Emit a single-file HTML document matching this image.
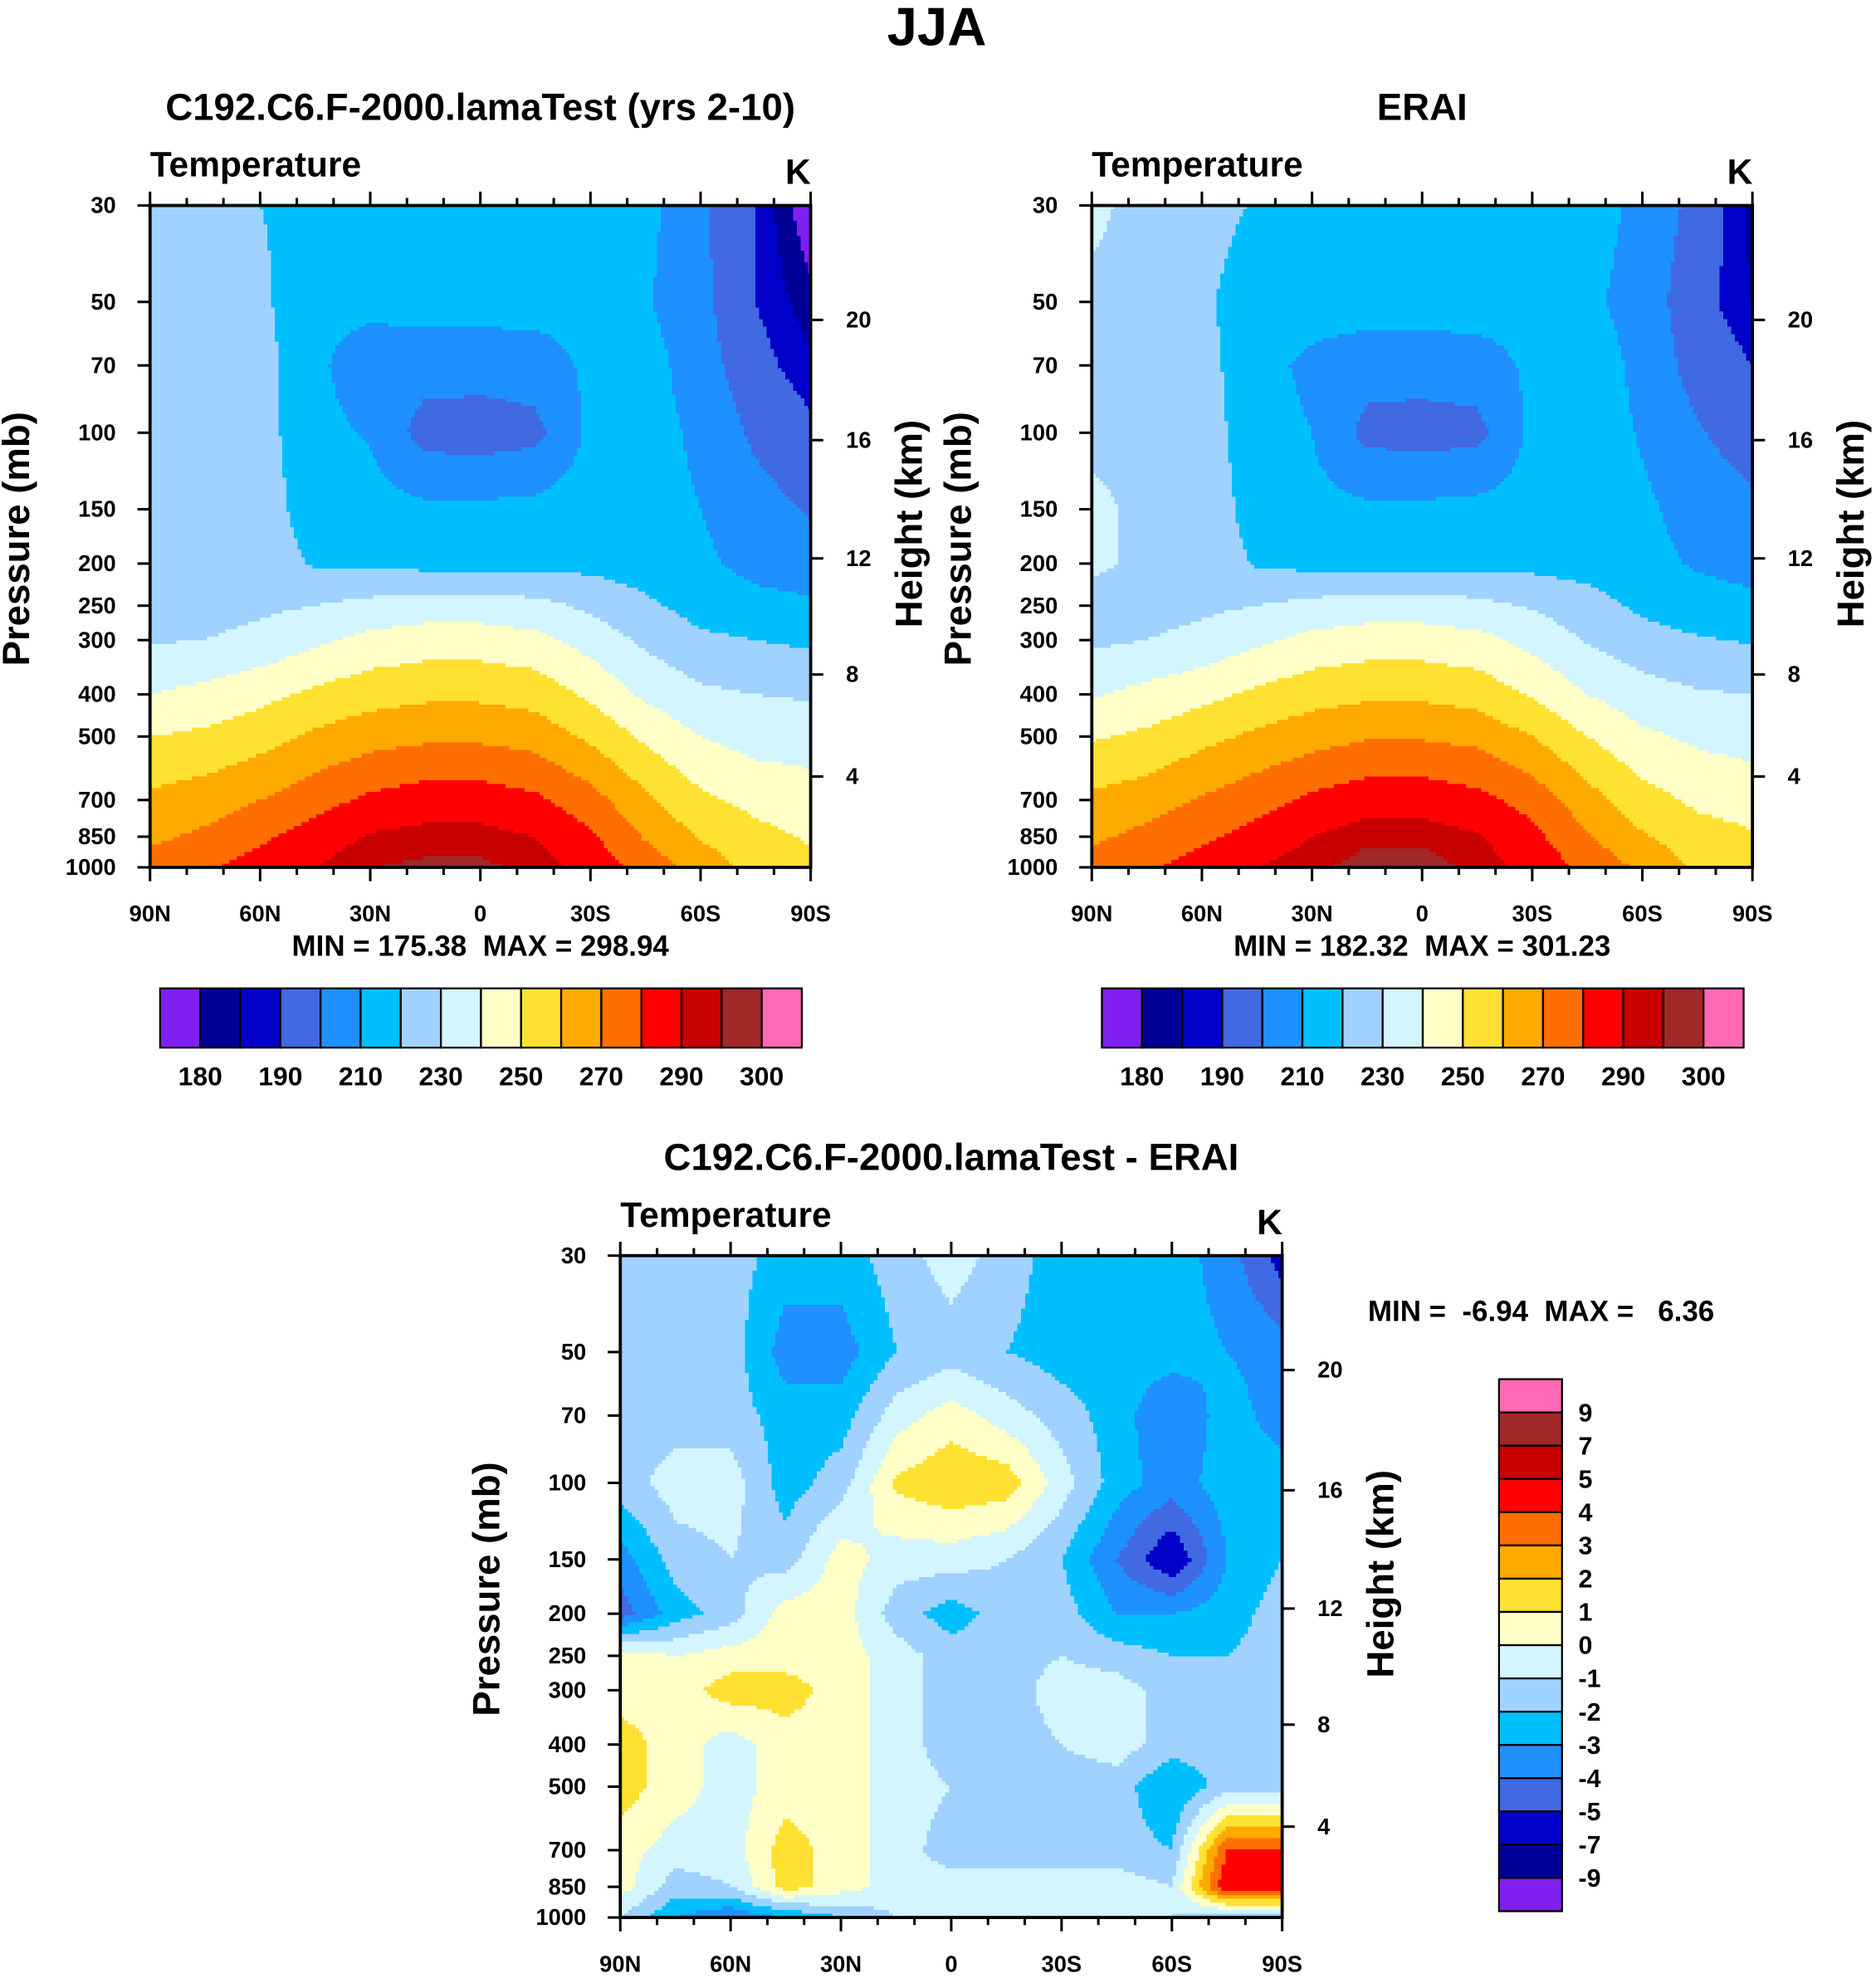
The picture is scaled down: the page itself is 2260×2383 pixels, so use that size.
<!DOCTYPE html>
<html><head><meta charset="utf-8">
<style>
html,body{margin:0;padding:0;background:#fff;}
svg{display:block;}
text{font-family:"Liberation Sans",Arial,sans-serif;font-weight:bold;fill:#000;white-space:pre;}
</style></head>
<body>
<svg id="fig" xmlns="http://www.w3.org/2000/svg" width="2260" height="2383" viewBox="0 0 1488 1569">
<text x="743" y="36" font-size="43" text-anchor="middle">JJA</text>
</svg>
<script>
// ---------- data ----------
const lats = [90,75,60,45,30,15,0,-15,-30,-45,-60,-75,-90];
const plevs = [1000,850,700,500,400,300,250,200,150,100,70,50,30];
const pressureTicks = [30,50,70,100,150,200,250,300,400,500,700,850,1000];
const heightTicks = [4,8,12,16,20];
const heightTickPressures = [618,360,194.6,104,55];
const latTickLabels = ["90N","60N","30N","0","30S","60S","90S"];
const latTickValues = [90,60,30,0,-30,-60,-90];
const absLevels = [180,185,190,200,210,220,230,240,250,260,270,280,290,295,300];
const absLabels = ["180","190","210","230","250","270","290","300"];
const diffLevels = [-9,-7,-5,-4,-3,-2,-1,0,1,2,3,4,5,7,9];
const diffLabels = ["-9","-7","-5","-4","-3","-2","-1","0","1","2","3","4","5","7","9"];
const colors = ["#8020f0","#000096","#0000c8","#4169e1","#1e90ff","#00bfff","#a0d2ff","#d2f5ff","#ffffc8","#ffe132","#ffaa00","#ff6e00","#ff0000","#c80000","#a02828","#ff69b4"];

// rows follow plevs (1000 -> 30), columns follow lats (90N -> 90S)
const modelT = [
[274,279,284,290,295,296,296,294,286,276,266,256,252],
[268,272,278,285,291,293,293,290,282,269,259,253,249],
[262,265,270,276,282,285,285,282,274,262,252,247,245],
[250,252,256,262,266,268,268,266,258,248,240,236,235],
[240,243,247,252,256,258,258,256,248,238,232,230,229],
[229,230,233,238,243,245,245,243,236,228,222,220,218],
[226,226,228,230,233,235,235,233,228,222,216,213,212],
[226,226,225,219,218,217,217,217,217,215,212,207,204],
[226,226,225,215,214,212,212,213,215,214,210,204,199],
[226,226,224,213,209,196,195,197,212,214,208,198,192],
[226,226,224,212,204,204,204,205,212,214,205,193,186],
[226,226,222,213,213,214,214,214,213,211,203,190,182],
[225,224,220,217,216,217,217,217,216,213,202,190,175]];
const eraT = [
[275,279,284,290,294,297,297,294,287,277,268,258,254],
[268,273,278,284,290,294,294,291,283,271,261,254,251],
[262,265,271,276,282,286,286,283,276,264,254,248,246],
[249,252,257,262,266,269,269,267,260,250,242,238,236],
[239,243,247,252,256,258,258,256,249,240,234,231,230],
[228,230,233,238,243,245,245,243,237,229,224,221,219],
[226,226,228,230,233,235,235,233,229,224,218,214,213],
[232,228,226,219,217,217,217,217,217,216,213,209,206],
[232,228,226,216,213,212,212,213,214,215,212,206,202],
[228,227,225,214,210,197,196,197,212,216,209,201,195],
[227,227,224,213,208,204,204,205,212,216,207,196,190],
[228,227,222,214,214,215,215,215,214,212,206,193,185],
[232,227,224,219,218,218,218,218,217,215,207,197,183]];
const diffT = [
[-1,-3,-4,-3,-2,-1,-1,-1,-1,-1,-1,-2,-2],
[0.5,-1.5,-1,1.5,0.5,-0.5,-0.5,-0.5,-0.5,-0.5,-1,5,5],
[0.5,-0.5,-0.5,1.5,0.5,-0.5,-1.5,-1.5,-1.5,-1.5,-2,4,4],
[1.5,0.5,-0.5,0.5,0.5,-0.5,-1,-1.5,-1.5,-1.5,-3,-1.5,-1.5],
[1.5,0.5,-0.5,0.5,0.5,-0.5,-1.5,-1.5,-1,-0.5,-1.5,-1.5,-1.5],
[0.5,0.5,1.5,1.5,0.5,-0.5,-1.5,-1.5,-0.5,-0.5,-1.5,-1.5,-1.5],
[0.5,0,0.5,0.5,0.5,-0.5,-1.5,-1.5,-1,-1.5,-2,-2,-1.5],
[-4.5,-2.5,-1.5,0.5,0.5,-1.5,-2.5,-1.5,-1.5,-3,-3,-2.5,-1.5],
[-3.5,-1.5,-1,-1.5,0.5,-0.5,-0.5,-1,-2,-4,-6,-3,-2],
[-1.5,-0.5,-0.5,-2.5,-1.5,1.2,1.8,1.6,-0.5,-2.5,-3.5,-2.5,-2.5],
[-1.5,-1.5,-1.5,-2.5,-2.5,-0.5,0.5,-0.5,-1.5,-2.5,-4,-2.5,-3.5],
[-1.5,-1.5,-1.5,-3.5,-3.5,-2,-1.5,-2,-2.5,-2.5,-2.5,-3,-3.5],
[-1.5,-1.5,-1.5,-2.5,-2.5,-1.5,-0.5,-1.5,-2.5,-2.5,-2.5,-3.5,-5.5]];

// ---------- drawing ----------
const NS="http://www.w3.org/2000/svg";
const svg=document.getElementById('fig');
function mk(tag,attrs,parent){const e=document.createElementNS(NS,tag);for(const k in attrs)e.setAttribute(k,attrs[k]);(parent||svg).appendChild(e);return e;}
function txt(x,y,s,size,anchor,parent){const t=mk('text',{x:x,y:y,'font-size':size,'text-anchor':anchor||'middle'},parent);t.textContent=s;return t;}
const L3=Math.log10(1000), LR=Math.log10(1000)-Math.log10(30);
function colorFor(v,levels){let i=0;while(i<levels.length&&v>=levels[i])i++;return colors[i];}
function sample(grid,lat,p){
  let fi=(90-lat)/15; let i0=Math.max(0,Math.min(11,Math.floor(fi))); let fx=fi-i0;
  const lp=Math.log10(p); let j0=0;
  for(let j=0;j<plevs.length-1;j++){if(lp<=Math.log10(plevs[j])&&lp>=Math.log10(plevs[j+1])){j0=j;break;}}
  const a=Math.log10(plevs[j0]),b=Math.log10(plevs[j0+1]); const fy=(a-lp)/(a-b);
  const v00=grid[j0][i0],v01=grid[j0][i0+1],v10=grid[j0+1][i0],v11=grid[j0+1][i0+1];
  return (v00*(1-fx)+v01*fx)*(1-fy)+(v10*(1-fx)+v11*fx)*fy;
}
function panel(opt){
  const {x0,y0,w,h,grid,levels,title,name}=opt;
  const g=mk('g',{});
  
  
  const xS=lat=>x0+(90-lat)/180*w;
  const yS=p=>y0+h-(L3-Math.log10(p))/LR*h;
  const fill=mk('g',{'shape-rendering':'crispEdges'},g);
  
  
  const step=3;
  for(let py=0;py<h;py+=step){
    const yc=Math.min(py+step/2,h-0.01); const p=Math.pow(10,L3-(h-yc)/h*LR);
    let runStart=0,runCol=null;
    const flush=(end)=>{const r=mk('rect',{x:x0+runStart,y:y0+py,width:end-runStart+0.3,height:Math.min(step,h-py)+0.3,fill:runCol},fill);
      
      };
    for(let px=0;px<w;px+=step){
      const lat=90-Math.min(px+step/2,w)/w*180;const col=colorFor(sample(grid,lat,p),levels);
      if(col!==runCol){ if(runCol!==null)flush(px); runStart=px;runCol=col; }
    }
    flush(w);
  }
  const fr=mk('rect',{x:x0,y:y0,width:w,height:h,fill:'none',stroke:'#000','stroke-width':2.5},g);
  
  
  for(let lat=90;lat>=-90;lat-=10){
    const x=xS(lat); const major=lat%30===0; const l=major?11:6;
    mk('line',{x1:x,x2:x,y1:y0,y2:y0-l,stroke:'#000','stroke-width':2},g);
    mk('line',{x1:x,x2:x,y1:y0+h,y2:y0+h+l,stroke:'#000','stroke-width':2},g);
  }
  latTickValues.forEach((v,i)=>{const t=txt(xS(v),y0+h+43,latTickLabels[i],18,'middle',g);
    
    });
  pressureTicks.forEach(p=>{const y=yS(p);mk('line',{x1:x0,x2:x0-10,y1:y,y2:y,stroke:'#000','stroke-width':2},g);
    const t=txt(x0-27,y+6,String(p),18,'end',g);
    
    });
  heightTicks.forEach((k,i)=>{const y=yS(heightTickPressures[i]);mk('line',{x1:x0+w,x2:x0+w+10,y1:y,y2:y,stroke:'#000','stroke-width':2},g);
    const t=txt(x0+w+28,y+6,String(k),18,'start',g);
    
    });
  const ty=txt(0,0,'Pressure (mb)',30,'middle',g);ty.setAttribute('transform',`translate(${x0-96},${y0+h/2+2}) rotate(-90)`);
  
  
  const th=txt(0,0,'Height (km)',30,'middle',g);th.setAttribute('transform',`translate(${x0+w+88},${y0+h/2-10}) rotate(-90)`);
  
  
  const tt=txt(x0+w/2,y0-68,title,30,'middle',g);
  
  
  const tv=txt(x0,y0-23,'Temperature',28,'start',g);
  
  
  const tk=txt(x0+w-10,y0-17,'K',28,'middle',g);
  
  
  return g;
}
function hbar(x0,y0,name){
  const g=mk('g',{});
  
  
  const bw=(636-127)/16;
  colors.forEach((c,i)=>{const r=mk('rect',{x:x0+i*bw,y:y0,width:bw,height:47,fill:c,stroke:'#000','stroke-width':1.5},g);
    
    });
  absLabels.forEach((s,i)=>{const t=txt(x0+(2*i+1)*bw,y0+77,s,21,'middle',g);
    
    });
}
panel({x0:119,y0:163,w:524,h:525,grid:modelT,levels:absLevels,title:'C192.C6.F-2000.lamaTest (yrs 2-10)',name:'model-panel'});
panel({x0:866,y0:163,w:524,h:525,grid:eraT,levels:absLevels,title:'ERAI',name:'erai-panel'});
panel({x0:492,y0:996,w:525,h:525,grid:diffT,levels:diffLevels,title:'C192.C6.F-2000.lamaTest - ERAI',name:'difference-panel'});
let t;
t=txt(381,758,'MIN = 175.38  MAX = 298.94',23);
t=txt(1128,758,'MIN = 182.32  MAX = 301.23',23);
t=txt(1085,1048,'MIN =  -6.94  MAX =   6.36',23,'start');
hbar(127,784,'model-colorbar');
hbar(874,784,'erai-colorbar');
(function(){
  const g=mk('g',{});
  
  
  const y0=1094,y1=1516,bh=(y1-y0)/16;
  for(let i=0;i<16;i++){const r=mk('rect',{x:1189,y:y0+i*bh,width:50,height:bh,fill:colors[15-i],stroke:'#000','stroke-width':1.5},g);
    
    }
  for(let i=0;i<15;i++){const t=txt(1252,y0+(i+1)*bh+7,diffLabels[14-i],20,'start',g);
    
    }
})();
</script>
</body></html>
